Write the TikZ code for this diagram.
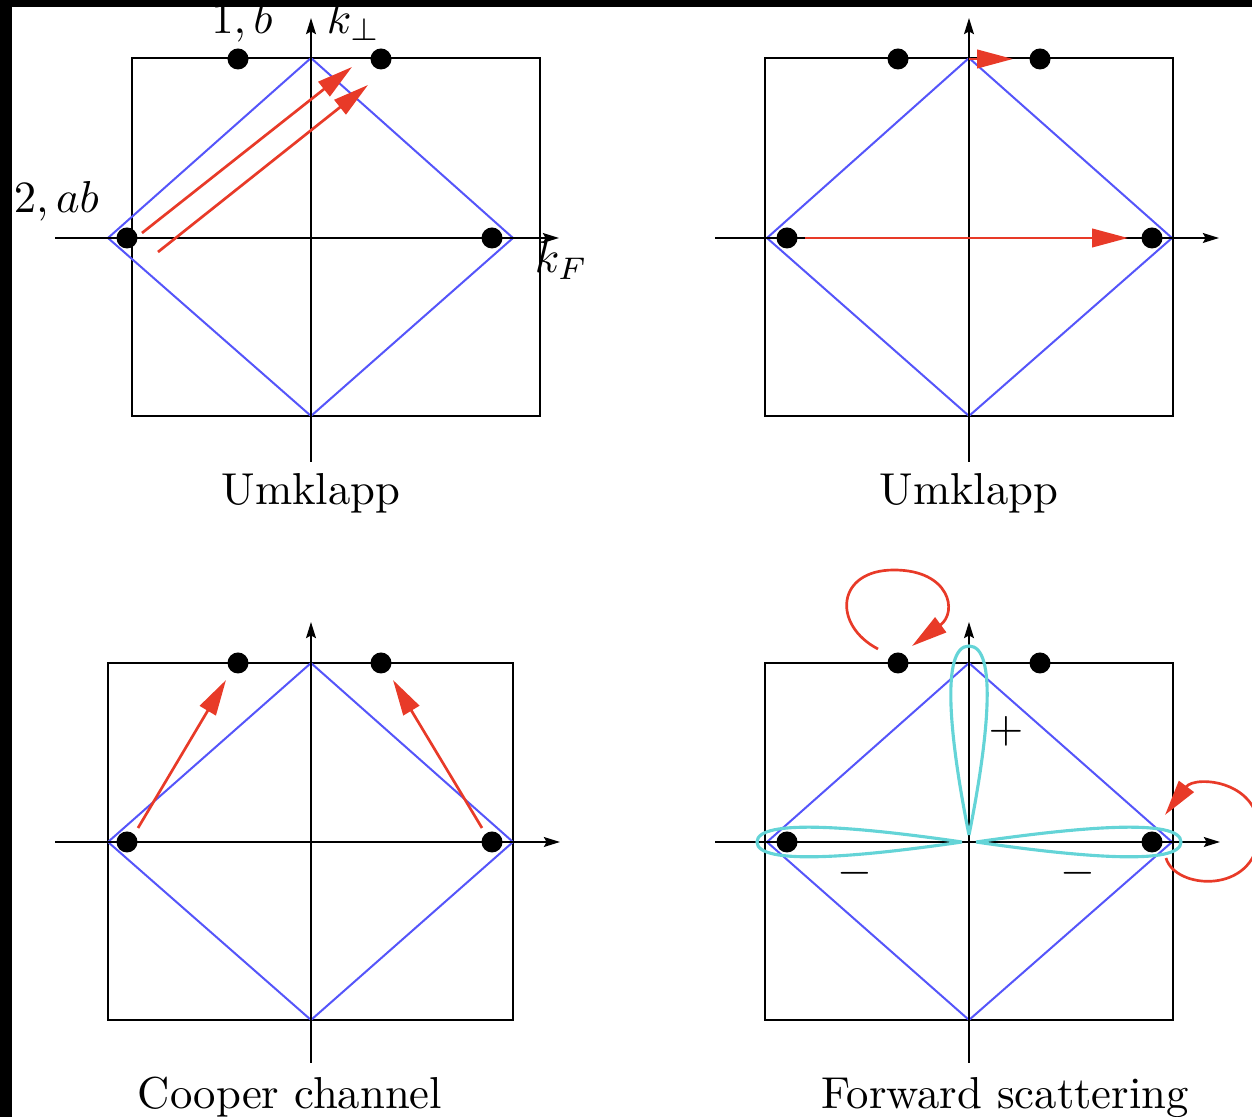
\documentclass[tikz,border=0pt]{standalone}
\usetikzlibrary{arrows.meta}
\definecolor{fsblue}{RGB}{85,85,250}
\definecolor{arrred}{RGB}{232,58,40}
\definecolor{lobecyan}{RGB}{100,212,215}
\begin{document}
\begin{tikzpicture}[x=0.2237pt,y=-0.2237pt,
 box/.style={draw=black,line width=0.45pt},
 fs/.style={draw=fsblue,line width=0.45pt},
 axis/.style={draw=black,line width=0.45pt,-{Stealth[length=3.6pt,width=2.2pt,inset=0.6pt]}},
 dot/.style={circle,fill=black,inner sep=0pt,minimum size=4.7pt},
 scat/.style={draw=arrred,line width=0.6pt,-{Triangle[length=8pt,width=4.1pt]}},
 lobe/.style={draw=lobecyan,line width=0.7pt},
 lab/.style={anchor=base,inner sep=0pt},
 labl/.style={anchor=base west,inner sep=0pt}]
\useasboundingbox (0,0) rectangle (1252,1117);
\fill[black] (0,0) rectangle (1252,7);
\fill[black] (0,0) rectangle (12,1117);

% ---------------- Panel 1 ----------------
\draw[box] (132,58) rectangle (540,416);
\draw[fs] (311,58) -- (513,238) -- (311,416) -- (108,238) -- cycle;
\coordinate (p1xs) at (55,238); \coordinate (p1xe) at (559,238);
\coordinate (p1ys) at (311,462); \coordinate (p1ye) at (311,18);
\draw[axis] (p1xs) -- (p1xe);
\draw[axis] (p1ys) -- (p1ye);
\node[dot] (p1t1) at (238,59) {};
\node[dot] (p1t2) at (381,59) {};
\node[dot] (p1l) at (127,238) {};
\node[dot] (p1r) at (492,238) {};
\coordinate (p1a1s) at (142,233); \coordinate (p1a1e) at (352,67);
\coordinate (p1a2s) at (158,252); \coordinate (p1a2e) at (368,85);
\draw[scat] (p1a1s) -- (p1a1e);
\draw[scat] (p1a2s) -- (p1a2e);
\node[lab] (l1b) at (242,34) {$1,b$};
\node[labl] (lkp) at (326,34) {$k_\perp$};
\node[labl] (l2ab) at (13,213) {$2,ab$};
\node[labl] (lkf) at (534,273) {$k_F$};
\node[lab] (t1) at (311,505) {Umklapp};

% ---------------- Panel 2 ----------------
\draw[box] (765,58) rectangle (1173,416);
\draw[fs] (969,58) -- (1172,238) -- (969,416) -- (767,238) -- cycle;
\coordinate (p2xs) at (715,238); \coordinate (p2xe) at (1219,238);
\coordinate (p2ys) at (969,462); \coordinate (p2ye) at (969,18);
\draw[axis] (p2xs) -- (p2xe);
\draw[axis] (p2ys) -- (p2ye);
\node[dot] (p2t1) at (898,59) {};
\node[dot] (p2t2) at (1040,59) {};
\node[dot] (p2l) at (787,238) {};
\node[dot] (p2r) at (1152,238) {};
\coordinate (p2as) at (805,238); \coordinate (p2ae) at (1128,238);
\draw[scat] (p2as) -- (p2ae);
\coordinate (p2bs) at (969,59); \coordinate (p2be) at (1013,59);
\draw[scat] (p2bs) -- (p2be);
\node[lab] (t2) at (969,505) {Umklapp};

% ---------------- Panel 3 ----------------
\draw[box] (108,663) rectangle (513,1020);
\draw[fs] (311,663) -- (513,842) -- (311,1020) -- (108,842) -- cycle;
\coordinate (p3xs) at (55,842); \coordinate (p3xe) at (560,842);
\coordinate (p3ys) at (311,1063); \coordinate (p3ye) at (311,622);
\draw[axis] (p3xs) -- (p3xe);
\draw[axis] (p3ys) -- (p3ye);
\node[dot] (p3t1) at (238,663) {};
\node[dot] (p3t2) at (381,663) {};
\node[dot] (p3l) at (127,842) {};
\node[dot] (p3r) at (492,842) {};
\coordinate (p3a1s) at (138,828); \coordinate (p3a1e) at (226,680);
\coordinate (p3a2s) at (482,828); \coordinate (p3a2e) at (393,680);
\draw[scat] (p3a1s) -- (p3a1e);
\draw[scat] (p3a2s) -- (p3a2e);
\node[lab] (t3) at (290,1109) {Cooper channel};

% ---------------- Panel 4 ----------------
\draw[box] (765,663) rectangle (1173,1020);
\draw[fs] (969,663) -- (1172,842) -- (969,1020) -- (767,842) -- cycle;
\coordinate (p4xs) at (715,842); \coordinate (p4xe) at (1220,842);
\coordinate (p4ys) at (969,1063); \coordinate (p4ye) at (969,622);
\draw[axis] (p4xs) -- (p4xe);
\draw[axis] (p4ys) -- (p4ye);
% lobes
\draw[lobe] (969,835) .. controls (950,740) and (940,646) .. (969,646)
            .. controls (998,646) and (988,740) .. (969,835);
\draw[lobe] (962,842) .. controls (859,827) and (757,818) .. (757,842)
            .. controls (757,866) and (859,857) .. (962,842);
\draw[lobe] (976,842) .. controls (1079,827) and (1181,818) .. (1181,842)
            .. controls (1181,866) and (1079,857) .. (976,842);
\node[dot] (p4t1) at (898,663) {};
\node[dot] (p4t2) at (1040,663) {};
\node[dot] (p4l) at (787,842) {};
\node[dot] (p4r) at (1152,842) {};
\coordinate (p4la) at (878,649); \coordinate (p4lb) at (912,646);
\draw[scat] (p4la) .. controls (832,625) and (836,570) .. (894,570)
                   .. controls (950,570) and (958,612) .. (p4lb);
\coordinate (p4ra) at (1166,858); \coordinate (p4rb) at (1165,815);
\draw[scat] (p4ra) .. controls (1175,890) and (1255,895) .. (1259,835)
                   .. controls (1262,780) and (1195,775) .. (p4rb);
\node (plus) at (1006,731) {$+$};
\node (m1) at (855,873) {$-$};
\node (m2) at (1078,873) {$-$};
\node[lab] (t4) at (1005,1109) {Forward scattering};
\end{tikzpicture}
\end{document}
